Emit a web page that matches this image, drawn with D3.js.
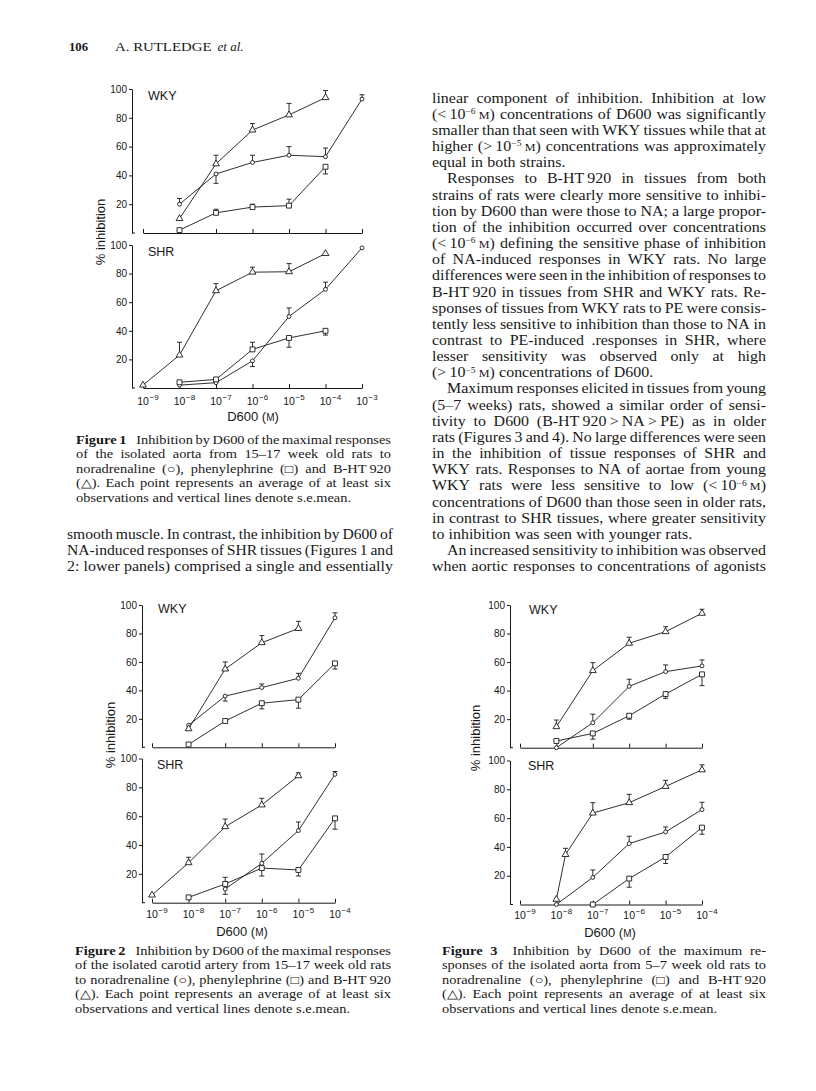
<!DOCTYPE html>
<html><head><meta charset="utf-8">
<script src="https://cdn.jsdelivr.net/npm/d3@7"></script>
<style>body{margin:0;background:#fff} svg{display:block}</style>
</head><body>
<svg id="page" width="816" height="1091"></svg>
<script>
// ---------------- data ----------------
const decadesFig1 = [-9, -8, -7, -6, -5, -4, -3];
const decadesFig23 = [-9, -8, -7, -6, -5, -4];
const yTickValues = [20, 40, 60, 80, 100];
const panelNames = ["WKY", "SHR"];
const xAxisTitle = "D600";
const yAxisTitle = "% inhibition";

// each point: [log10 D600 (M), mean % inhibition, tip of s.e.mean bar (null = none)]
const fig1WkyNA  = [[-8, 20, 24], [-7, 41, 34.5], [-6, 49, 54], [-5, 54, 60], [-4, 53, 59], [-3, 93, 96]];
const fig1WkyPE  = [[-8, 2, null], [-7, 14, 16.5], [-6, 18, 20], [-5, 19, 23.5], [-4, 46, 41]];
const fig1WkyBHT = [[-8, 10, null], [-7, 48, 54], [-6, 71.5, 76], [-5, 82, 90], [-4, 94, 99]];
const fig1ShrNA  = [[-8, 2, null], [-7, 3.7, null], [-6, 19, 15], [-5, 50, 56], [-4, 69, 74], [-3, 98, null]];
const fig1ShrPE  = [[-8, 4, null], [-7, 6, null], [-6, 27, 32], [-5, 35, 28.5], [-4, 40, 37]];
const fig1ShrBHT = [[-9, 2, null], [-8, 23, 32], [-7, 68, 73], [-6, 81, 84.5], [-5, 81.3, 87], [-4, 94, null]];

const fig2WkyNA  = [[-8, 15.5, null], [-7, 36, 32.5], [-6, 42, 44.5], [-5, 48.5, 52], [-4, 91, 94.5]];
const fig2WkyPE  = [[-8, 2, null], [-7, 18.5, null], [-6, 31, 27], [-5, 33.5, 27.5], [-4, 59, 55]];
const fig2WkyBHT = [[-8, 13, null], [-7, 55, 60], [-6, 73.5, 78.5], [-5, 83.5, 88.5]];
const fig2ShrNA  = [[-7, 9.5, 5.8], [-6, 27.3, 33.8], [-5, 50, 56], [-4, 89, 91]];
const fig2ShrPE  = [[-8, 3.7, null], [-7, 13, 17.6], [-6, 24, 18.5], [-5, 22.7, 18.5], [-4, 58.5, 51]];
const fig2ShrBHT = [[-9, 5.3, null], [-8, 27.7, 31.5], [-7, 52.7, 58], [-6, 67.8, 72.4], [-5, 88, 90]];

const fig3WkyNA  = [[-8, 0, null], [-7, 17.5, 23.5], [-6, 43, 48], [-5, 53.3, 58], [-4, 57.3, 61.5]];
const fig3WkyPE  = [[-8, 4.7, null], [-7, 10, 6], [-6, 22.4, 20], [-5, 37.6, 34.6], [-4, 51.4, 43.5]];
const fig3WkyBHT = [[-8, 14.7, 19.4], [-7, 54, 59.6], [-6, 73.2, 77.4], [-5, 81.3, 84.8], [-4, 94.2, 97]];
const fig3ShrNA  = [[-8, 0, null], [-7, 18.8, 24], [-6, 42.3, 47.4], [-5, 50.4, 53.8], [-4, 65.9, 71]];
const fig3ShrPE  = [[-7, 0, null], [-6, 18, 12], [-5, 33, 28.5], [-4, 53.4, 48.8]];
const fig3ShrBHT = [[-8, 3.6, null], [-7.75, 34.7, 39], [-7, 63.5, 70.7], [-6, 70.7, 76.5], [-5, 82, 86.2], [-4, 93.5, 97]];

// ---------------- text ----------------
const headerPage = "106";
const headerAuthor = "A. RUTLEDGE";
const headerEtAl = "et al.";

const rightColumn = [
"linear component of inhibition. Inhibition at low",
"(<\u200910^{\u22126}\u2009{M}) concentrations of D600 was significantly",
"smaller than that seen with WKY tissues while that at",
"higher (>\u200910^{\u22125}\u2009{M}) concentrations was approximately",
"equal in both strains.",
"Responses to B-HT\u2009920 in tissues from both",
"strains of rats were clearly more sensitive to inhibi-",
"tion by D600 than were those to NA; a large propor-",
"tion of the inhibition occurred over concentrations",
"(<\u200910^{\u22126}\u2009{M}) defining the sensitive phase of inhibition",
"of NA-induced responses in WKY rats. No large",
"differences were seen in the inhibition of responses to",
"B-HT\u2009920 in tissues from SHR and WKY rats. Re-",
"sponses of tissues from WKY rats to PE were consis-",
"tently less sensitive to inhibition than those to NA in",
"contrast to PE-induced .responses in SHR, where",
"lesser sensitivity was observed only at high",
"(>\u200910^{\u22125}\u2009{M}) concentrations of D600.",
"Maximum responses elicited in tissues from young",
"(5\u20137 weeks) rats, showed a similar order of sensi-",
"tivity to D600 (B-HT\u2009920\u2009>\u2009NA\u2009>\u2009PE) as in older",
"rats (Figures 3 and 4). No large differences were seen",
"in the inhibition of tissue responses of SHR and",
"WKY rats. Responses to NA of aortae from young",
"WKY rats were less sensitive to low (<\u200910^{\u22126}\u2009{M})",
"concentrations of D600 than those seen in older rats,",
"in contrast to SHR tissues, where greater sensitivity",
"to inhibition was seen with younger rats.",
"An increased sensitivity to inhibition was observed",
"when aortic responses to concentrations of agonists"
];
const rightParaStarts = [5, 18, 28];
const rightParaEnds = [4, 17, 27];

const leftColumn = [
"smooth muscle. In contrast, the inhibition by D600 of",
"NA-induced responses of SHR tissues (Figures 1 and",
"2: lower panels) comprised a single and essentially"
];

const caption1 = [
"*Figure *1\u2002 Inhibition by D600 of the maximal responses",
"of the isolated aorta from 15\u201317 week old rats to",
"noradrenaline (\u25CB), phenylephrine (\u25A1) and B-HT\u2009920",
"(\u25B3). Each point represents an average of at least six",
"observations and vertical lines denote s.e.mean."
];
const caption2 = [
"*Figure *2\u2002 Inhibition by D600 of the maximal responses",
"of the isolated carotid artery from 15\u201317 week old rats",
"to noradrenaline (\u25CB), phenylephrine (\u25A1) and B-HT\u2009920",
"(\u25B3). Each point represents an average of at least six",
"observations and vertical lines denote s.e.mean."
];
const caption3 = [
"*Figure *3\u2002 Inhibition by D600 of the maximum re-",
"sponses of the isolated aorta from 5\u20137 week old rats to",
"noradrenaline (\u25CB), phenylephrine (\u25A1) and B-HT\u2009920",
"(\u25B3). Each point represents an average of at least six",
"observations and vertical lines denote s.e.mean."
];

// ---------------- drawing ----------------
const INK = "#181818";
const SANS = "'Liberation Sans', Arial, sans-serif";
const SERIF = "'Liberation Serif', 'Times New Roman', serif";
const svg = d3.select("#page");
svg.append("rect").attr("width", 816).attr("height", 1091).attr("fill", "#fff");

function makeWord(parent, word, fs, fam) {
  let bold = false;
  if (word[0] === "*") { bold = true; word = word.slice(1); }
  const t = parent.append("text").attr("x", 0).attr("y", 0)
    .attr("font-family", fam).attr("font-size", fs).attr("fill", INK);
  if (bold) t.attr("font-weight", "bold");
  const parts = word.split(/(\^\{[^}]*\}|\{M\})/).filter(s => s.length);
  let shift = 0;
  parts.forEach(p => {
    const ts = t.append("tspan");
    let target = 0;
    if (p.startsWith("^{")) { ts.text(p.slice(2, -1)).attr("font-size", fs * 0.6); target = -fs * 0.33; }
    else if (p === "{M}") { ts.text("M").attr("font-size", fs * 0.76); }
    else ts.text(p);
    if (target !== shift) { ts.attr("dy", target - shift); shift = target; }
  });
  return t;
}

function textBlock(lines, x0, x1, yStart, step, fs, sx, starts, ends, indent) {
  const g = svg.append("g");
  const spaceW = fs * 0.26 * sx;
  const minGap = fs * 0.18 * sx;
  lines.forEach((ln, i) => {
    const y = yStart + i * step;
    const left = starts.includes(i) ? x0 + indent : x0;
    const justify = !ends.includes(i);
    const words = ln.split(" ").filter(w => w.length);
    const nodes = words.map(w => makeWord(g, w, fs, SERIF));
    const raw = nodes.map(n => n.node().getComputedTextLength());
    let s = sx;
    const avail = x1 - left;
    const nGap = Math.max(words.length - 1, 1);
    if (justify && d3.sum(raw) * s + nGap * minGap > avail) s = (avail - nGap * minGap) / d3.sum(raw);
    const widths = raw.map(w => w * s);
    const total = d3.sum(widths);
    const gap = (justify && words.length > 1) ? (avail - total) / (words.length - 1) : spaceW;
    let cx = left;
    nodes.forEach((n, k) => { n.attr("transform", `translate(${cx},${y}) scale(${s},1)`); cx += widths[k] + gap; });
  });
}

function panel(cfg, decades, series, name, showXLabels) {
  const g = svg.append("g");
  const x = d3.scaleLog().domain([10 ** decades[0], 10 ** decades[decades.length - 1]]).range(cfg.xr);
  const y = d3.scaleLinear().domain([0, 100]).range([cfg.y0, cfg.y100]);

  const ya = g.append("g").attr("transform", `translate(${cfg.ax},0)`)
    .call(d3.axisLeft(y).tickValues(yTickValues).tickSize(3).tickSizeOuter(0).tickPadding(2).tickFormat(d3.format("d")));
  ya.selectAll("path,line").attr("stroke", INK).attr("stroke-width", 1);
  ya.selectAll("text").attr("font-family", SANS).attr("font-size", 10).attr("fill", INK);
  g.append("line").attr("x1", cfg.ax).attr("x2", cfg.ax + 3).attr("y1", cfg.y0).attr("y2", cfg.y0)
    .attr("stroke", INK);

  const xa = g.append("g").attr("transform", `translate(0,${cfg.y0})`)
    .call(d3.axisBottom(x).tickValues(decades.map(e => 10 ** e)).tickSize(-4).tickSizeOuter(0).tickFormat(""));
  xa.selectAll("path,line").attr("stroke", INK).attr("stroke-width", 1);

  if (showXLabels) {
    decades.forEach(e => {
      const px = x(10 ** e);
      g.append("text").attr("x", px).attr("y", cfg.y0 + cfg.lblDy).attr("text-anchor", "middle")
        .attr("font-family", SANS).attr("font-size", 10.5).attr("fill", INK).text("10");
      g.append("text").attr("x", px + 6.6).attr("y", cfg.y0 + cfg.lblDy - 5).attr("text-anchor", "start")
        .attr("font-family", SANS).attr("font-size", 8).attr("fill", INK).text("\u2212" + (-e));
    });
  }

  g.append("text").attr("x", cfg.nameX).attr("y", cfg.nameY).attr("font-family", SANS)
    .attr("font-size", 12.5).attr("fill", INK).text(name);

  const line = d3.line().x(d => x(10 ** d[0])).y(d => y(d[1]));
  const symbols = { NA: d3.symbolCircle, PE: d3.symbolSquare, BHT: d3.symbolTriangle };
  const sizes = { NA: 12, PE: 24, BHT: 20 };
  Object.entries(series).forEach(([key, data]) => {
    g.append("path").attr("d", line(data)).attr("fill", "none").attr("stroke", INK).attr("stroke-width", 0.9);
  });
  Object.entries(series).forEach(([key, data]) => {
    data.filter(d => d[2] !== null).forEach(d => {
      const px = x(10 ** d[0]);
      g.append("line").attr("x1", px).attr("x2", px).attr("y1", y(d[1])).attr("y2", y(d[2]))
        .attr("stroke", INK).attr("stroke-width", 0.9);
      g.append("line").attr("x1", px - 2.5).attr("x2", px + 2.5).attr("y1", y(d[2])).attr("y2", y(d[2]))
        .attr("stroke", INK).attr("stroke-width", 0.9);
    });
  });
  Object.entries(series).forEach(([key, data]) => {
    g.selectAll(null).data(data).join("path")
      .attr("transform", d => `translate(${x(10 ** d[0])},${y(d[1])})`)
      .attr("d", d3.symbol(symbols[key], sizes[key]))
      .attr("fill", "#fff").attr("stroke", INK).attr("stroke-width", 0.9);
  });
}

function figure(f) {
  panel(f.top, f.decades, f.topSeries, panelNames[0], false);
  panel(f.bottom, f.decades, f.bottomSeries, panelNames[1], true);
  svg.append("text").attr("transform", `translate(${f.yTitle[0]},${f.yTitle[1]}) rotate(-90)`)
    .attr("text-anchor", "middle").attr("font-family", SANS).attr("font-size", 13).attr("fill", INK)
    .text(yAxisTitle);
  const t = svg.append("text").attr("x", f.xTitle[0]).attr("y", f.xTitle[1]).attr("text-anchor", "middle")
    .attr("font-family", SANS).attr("font-size", 13).attr("fill", INK);
  t.append("tspan").text(xAxisTitle + " (");
  t.append("tspan").attr("font-size", 10).text("M");
  t.append("tspan").text(")");
}

// header
svg.append("text").attr("x", 69).attr("y", 50.5).attr("font-family", SERIF).attr("font-weight", "bold")
  .attr("font-size", 12.5).attr("fill", INK).attr("textLength", 19).attr("lengthAdjust", "spacingAndGlyphs").text(headerPage);
svg.append("text").attr("x", 115).attr("y", 50.5).attr("font-family", SERIF)
  .attr("font-size", 12.5).attr("fill", INK).attr("textLength", 96.5).attr("lengthAdjust", "spacingAndGlyphs").text(headerAuthor);
svg.append("text").attr("x", 217.5).attr("y", 50.5).attr("font-family", SERIF).attr("font-style", "italic")
  .attr("font-size", 12.5).attr("fill", INK).attr("textLength", 26).attr("lengthAdjust", "spacingAndGlyphs").text(headerEtAl);

// Figure 1
figure({
  decades: decadesFig1,
  top: { xr: [143, 362], ax: 132, y0: 233, y100: 89, nameX: 148, nameY: 99.5, lblDy: 17 },
  bottom: { xr: [143, 362], ax: 132, y0: 388, y100: 245, nameX: 148, nameY: 255.5, lblDy: 17 },
  topSeries: { NA: fig1WkyNA, PE: fig1WkyPE, BHT: fig1WkyBHT },
  bottomSeries: { NA: fig1ShrNA, PE: fig1ShrPE, BHT: fig1ShrBHT },
  yTitle: [104.5, 232], xTitle: [253, 421]
});
// Figure 2
figure({
  decades: decadesFig23,
  top: { xr: [152, 335], ax: 142, y0: 747.3, y100: 605, nameX: 158, nameY: 612.5, lblDy: 15.5 },
  bottom: { xr: [152, 335], ax: 142, y0: 902.7, y100: 758.5, nameX: 157, nameY: 768.5, lblDy: 15.5 },
  topSeries: { NA: fig2WkyNA, PE: fig2WkyPE, BHT: fig2WkyBHT },
  bottomSeries: { NA: fig2ShrNA, PE: fig2ShrPE, BHT: fig2ShrBHT },
  yTitle: [114.5, 735], xTitle: [242, 936]
});
// Figure 3
figure({
  decades: decadesFig23,
  top: { xr: [520, 702], ax: 510, y0: 747.7, y100: 605, nameX: 529, nameY: 613.5, lblDy: 14 },
  bottom: { xr: [520, 702], ax: 510, y0: 904.5, y100: 760.5, nameX: 528, nameY: 769.5, lblDy: 14 },
  topSeries: { NA: fig3WkyNA, PE: fig3WkyPE, BHT: fig3WkyBHT },
  bottomSeries: { NA: fig3ShrNA, PE: fig3ShrPE, BHT: fig3ShrBHT },
  yTitle: [480, 738], xTitle: [610, 936.5]
});

// captions and body text
textBlock(caption1, 76, 391, 443.5, 14.5, 12, 1.2, [], [4], 0);
textBlock(caption2, 75, 391, 954.5, 14.5, 12, 1.2, [], [4], 0);
textBlock(caption3, 442, 766, 954.5, 14.5, 12, 1.2, [], [4], 0);
textBlock(leftColumn, 67, 393, 539, 15.8, 14.5, 1.1, [], [], 0);
textBlock(rightColumn, 432, 766, 102.6, 16.16, 14.5, 1.1, rightParaStarts, rightParaEnds, 15);
</script>
</body></html>
